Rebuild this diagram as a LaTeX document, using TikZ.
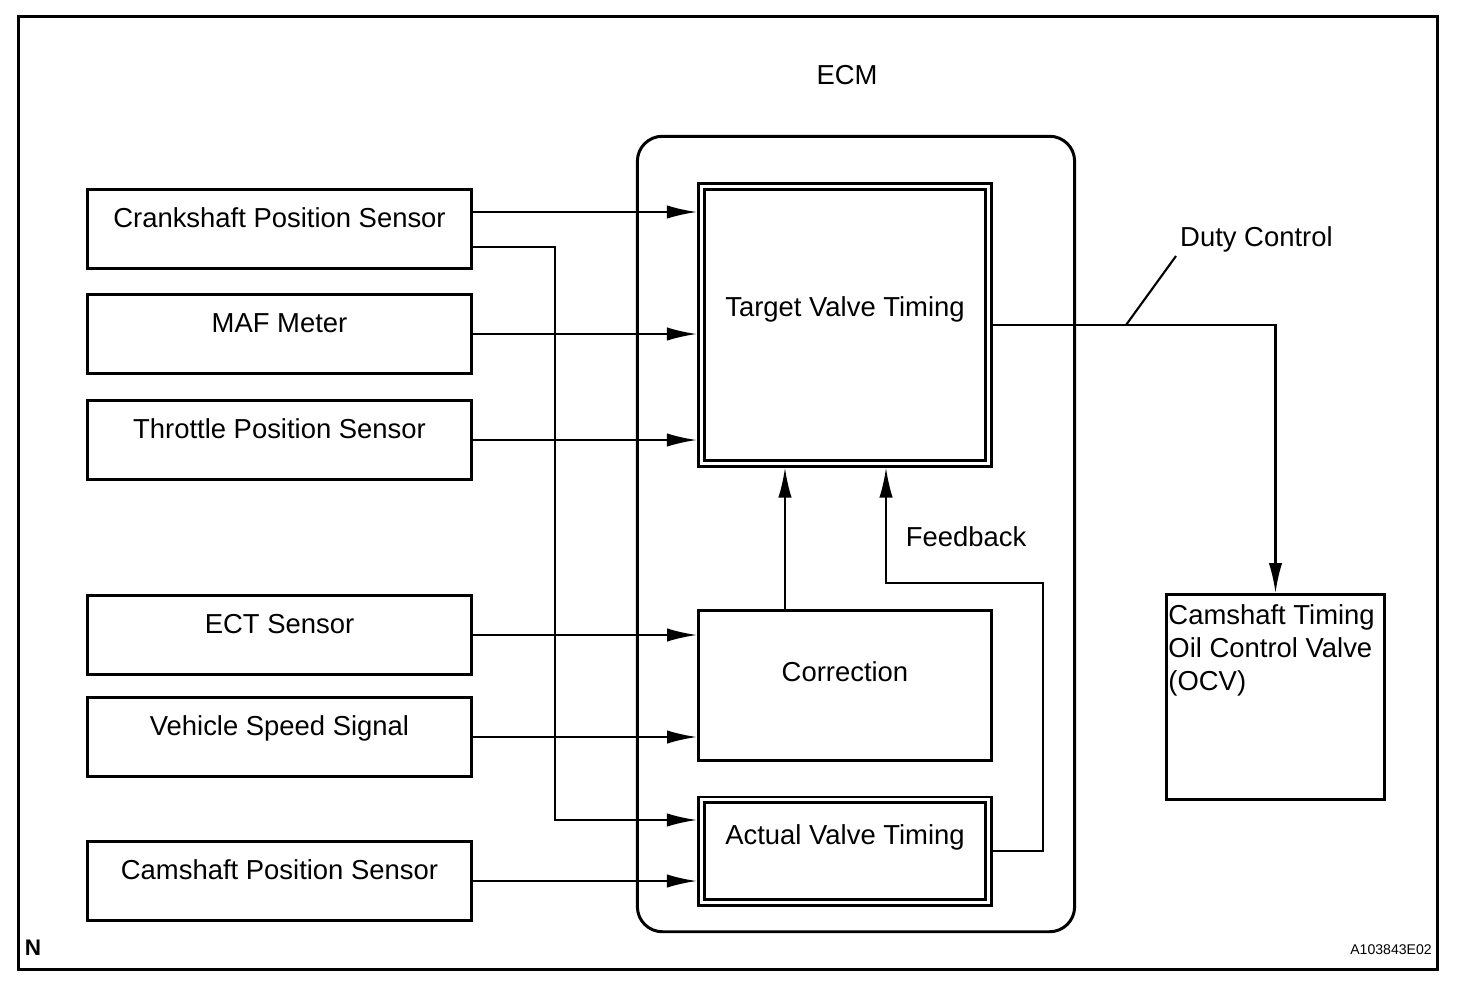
\documentclass[tikz,border=0pt]{standalone}
\usepackage{fontspec}
\setmainfont{Liberation Sans}
\usetikzlibrary{arrows.meta,positioning}

\begin{document}
\begin{tikzpicture}[x=0.01cm, y=-0.01cm,
    font=\fontsize{7.8}{9.4}\selectfont,
    sensor/.style={draw, line width=0.85pt, minimum width=3.84cm, minimum height=0.79cm, text height=5.6pt, text depth=0.23cm},
    block/.style={draw, line width=0.85pt, text height=5.6pt},
    dblock/.style={draw, double, double distance=0.85pt, line width=0.85pt, outer sep=1.3pt, text height=5.6pt},
    sig/.style={line width=0.6pt, -{Latex[length=8.5pt,width=3.8pt]}}]

    \useasboundingbox (0,0) rectangle (1472,996);
    \draw[line width=0.85pt] (18.5,16.5) rectangle (1437.5,969.5); % outer frame

    % ECM
    \node (ecmlabel) at (847,75) {ECM};
    \node[draw, line width=0.85pt, rounded corners=0.25cm, minimum width=4.37cm, minimum height=7.95cm] (ecm) at (856,534) {};
    \node[dblock, minimum width=2.87cm, minimum height=2.76cm, text depth=0.36cm] (target) at (845,325) {Target Valve Timing};
    \node[block, minimum width=2.93cm, minimum height=1.50cm, text depth=0.27cm] (correction) at (845,685.5) {Correction};
    \node[dblock, minimum width=2.87cm, minimum height=1.02cm, text depth=0.32cm] (actual) at (845,851) {Actual Valve Timing};

    % sensors
    \node[sensor] (crank) at (279.5,229) {Crankshaft Position Sensor};
    \node[sensor] (maf) at (279.5,334) {MAF Meter};
    \node[sensor] (tps) at (279.5,440) {Throttle Position Sensor};
    \node[sensor] (ect) at (279.5,635) {ECT Sensor};
    \node[sensor] (vss) at (279.5,737) {Vehicle Speed Signal};
    \node[sensor] (cmp) at (279.5,881) {Camshaft Position Sensor};

    % OCV
    \node[block, minimum width=2.18cm, minimum height=2.05cm] (ocv) at (1275.5,697) {};
    \node[anchor=north west, align=left, inner sep=0pt] (ocvtext) at ([xshift=0.8pt,yshift=-3.2pt]ocv.north west) {Camshaft Timing\\Oil Control Valve\\(OCV)};

    % inputs
    \coordinate (cin) at ([yshift=0.17cm]crank.east);
    \coordinate (cout) at ([yshift=-0.18cm]crank.east);
    \coordinate (ain) at ([yshift=0.31cm]actual.west);
    \coordinate (bus) at (555,0);
    \draw[sig] (cin) -- (cin -| target.west);
    \draw[sig] (cout) -| (bus |- ain) -- (ain); % crank to actual timing
    \draw[sig] (maf.east) -- (maf.east -| target.west);
    \draw[sig] (tps.east) -- (tps.east -| target.west);
    \draw[sig] (ect.east) -- (ect.east -| correction.west);
    \draw[sig] (vss.east) -- (vss.east -| correction.west);
    \draw[sig] (cmp.east) -- (cmp.east -| actual.west);

    % correction and feedback
    \draw[sig] ([xshift=-0.6cm]correction.north) -- ([xshift=-0.6cm]target.south);
    \coordinate (fb) at (1043,583);
    \draw[sig] (actual.east) -| (fb) -| ([xshift=0.41cm]target.south);
    \node (feedback) at (966,537) {Feedback};

    % output
    \draw[sig] (target.east) -| (ocv.north);
    \coordinate (tick) at (1126,325);
    \node[anchor=south west, inner sep=1pt] (duty) at (1176,256) {Duty Control};
    \draw[line width=0.6pt] (tick) -- (duty.south west);

    \node[font=\bfseries\fontsize{6.4}{7}\selectfont] (nmark) at (33,948) {N};
    \node[font=\fontsize{4}{5}\selectfont] (code) at (1391,950) {A103843E02};
\end{tikzpicture}
\end{document}
